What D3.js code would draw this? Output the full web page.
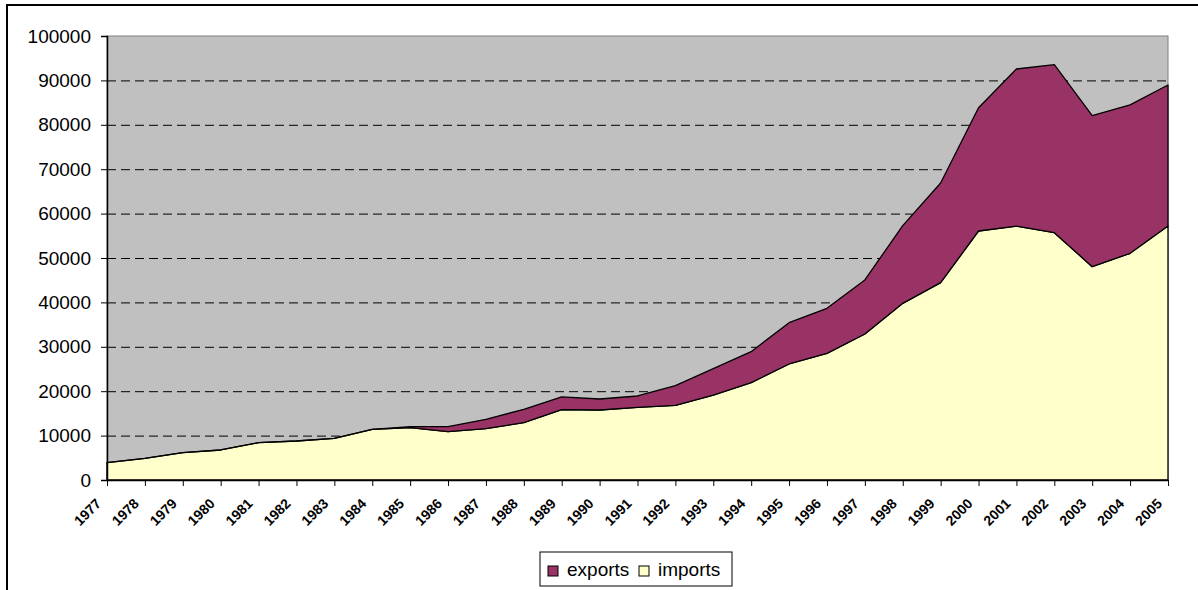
<!DOCTYPE html>
<html>
<head>
<meta charset="utf-8">
<script src="https://cdn.jsdelivr.net/npm/d3@7"></script>
<style>
body { margin:0; background:#fff; }
text { font-family: "Liberation Sans", Arial, sans-serif; }
</style>
</head>
<body>
<svg id="chart" width="1198" height="590"></svg>
<script>
// years, imports and exports (stacked: imports below, exports on top)
var years = ["1977","1978","1979","1980","1981","1982","1983","1984","1985","1986",
  "1987","1988","1989","1990","1991","1992","1993","1994","1995","1996",
  "1997","1998","1999","2000","2001","2002","2003","2004","2005"]
var imports = [3900,4880,6150,6760,8410,8780,9380,11410,11780,10880,
  11560,12910,15850,15770,16370,16820,19140,21920,26130,28530,
  32880,39790,44440,56080,57200,55700,48050,51060,57200]
var exports = [0,0,0,0,0,0,0,0,230,1120,
  2100,3010,2850,2470,2550,4420,5930,6980,9300,10130,
  12170,17510,22460,27770,35370,37840,34000,33440,31760]
var yTicks = [0,10000,20000,30000,40000,50000,60000,70000,80000,90000,100000]

var svg = d3.select("#chart")
var plotL = 107, plotR = 1168, plotT = 36, plotB = 480

// outer chart frame (runs off the right and bottom edge)
svg.append("rect").attr("x",7).attr("y",5).attr("width",1200).attr("height",600)
  .attr("fill","none").attr("stroke","#000").attr("stroke-width",2)

var x = d3.scalePoint().domain(years).range([plotL,plotR])
var y = d3.scaleLinear().domain([0,100000]).range([plotB,plotT])

// plot area
svg.append("rect").attr("x",plotL).attr("y",plotT).attr("width",plotR-plotL).attr("height",plotB-plotT)
  .attr("fill","#c0c0c0").attr("stroke","#808080").attr("stroke-width",1)

// dashed gridlines
svg.selectAll(".grid").data(yTicks.filter(function(d){ return d>0 && d<100000 }))
  .enter().append("line")
  .attr("x1",plotL).attr("x2",plotR)
  .attr("y1",function(d){ return y(d)+0.5 }).attr("y2",function(d){ return y(d)+0.5 })
  .attr("stroke","#000").attr("stroke-dasharray","9,5").attr("stroke-width",1)

var rows = years.map(function(yr,i){ return {year:yr, imports:imports[i], exports:exports[i]} })
var stack = d3.stack().keys(["imports","exports"])(rows)
var colors = {imports:"#ffffcc", exports:"#993366"}

var area = d3.area()
  .x(function(d){ return x(d.data.year) })
  .y0(function(d){ return y(d[0]) })
  .y1(function(d){ return y(d[1]) })

svg.selectAll(".layer").data(stack).enter().append("path")
  .attr("d",area)
  .attr("fill",function(d){ return colors[d.key] })
  .attr("stroke","#000").attr("stroke-width",1.3).attr("stroke-linejoin","round")

// axes
var yAxis = d3.axisLeft(y).tickValues(yTicks).tickSize(6).tickPadding(10).tickFormat(d3.format("d"))
var gy = svg.append("g").attr("transform","translate("+plotL+",0)").call(yAxis)
gy.select(".domain").attr("stroke","#000").attr("stroke-width",1.5)
gy.selectAll("text").style("font-size","19px").attr("fill","#000")

var xAxis = d3.axisBottom(x).tickSize(6).tickSizeOuter(0)
var gx = svg.append("g").attr("transform","translate(0,"+plotB+")").call(xAxis)
gx.select(".domain").attr("stroke","#000").attr("stroke-width",1.5)
gx.selectAll("text")
  .style("font-size","14px").style("font-weight","bold").attr("fill","#000")
  .attr("text-anchor","end")
  .attr("transform","translate(-9,21) rotate(-45)")
  .attr("dy","0.35em").attr("y",0).attr("x",0)

// legend
var lg = svg.append("g").attr("transform","translate(540,552)")
lg.append("rect").attr("width",192).attr("height",34).attr("fill","#fff").attr("stroke","#000").attr("stroke-width",1)
var items = [{key:"exports", x:8}, {key:"imports", x:99}]
items.forEach(function(it){
  lg.append("rect").attr("x",it.x).attr("y",14).attr("width",10).attr("height",10)
    .attr("fill",colors[it.key]).attr("stroke","#000").attr("stroke-width",1)
  lg.append("text").attr("x",it.x+19).attr("y",24).text(it.key)
    .style("font-size","19px").attr("fill","#000")
})
</script>
</body>
</html>
